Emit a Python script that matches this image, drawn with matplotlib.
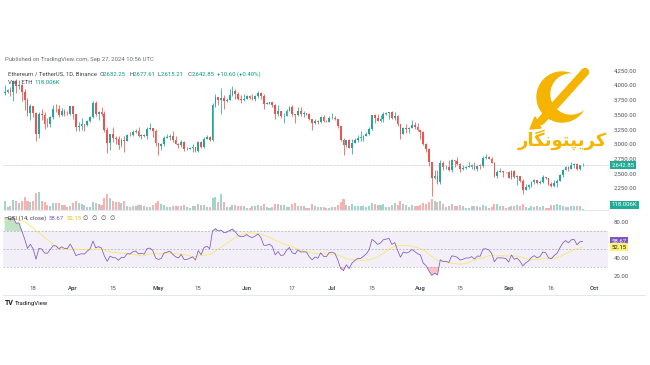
import numpy as np
import pandas as pd
import matplotlib
matplotlib.use("Agg")
import matplotlib.pyplot as plt
from matplotlib.patches import Circle, Ellipse, Polygon
from matplotlib.transforms import blended_transform_factory

# ---------------- data ----------------
start_date = "2024-03-08"
warmup_close = [2470, 2455, 2315, 2240, 2235, 2218, 2267, 2267, 2257, 2317, 2343, 2283,
                2304, 2309, 2297, 2290, 2302, 2372, 2425, 2420, 2486, 2500, 2507, 2660,
                2641, 2777, 2823, 2803, 2787, 2882, 2945, 3014, 2967, 2971, 2922, 2992,
                3112, 3176, 3243, 3385, 3340, 3434, 3421, 3488, 3628, 3553, 3817, 3868]

close_mar = [3882, 3907, 3878, 4067, 3982, 4005, 3885, 3740, 3525, 3645, 3520, 3160,
             3515, 3495, 3335, 3330, 3455, 3590, 3585, 3490, 3560, 3510, 3505, 3645]
high_mar = [3995, 3940, 3960, 4085, 4095, 4085, 4010, 3935, 3780, 3670, 3615, 3540,
            3535, 3590, 3545, 3435, 3465, 3665, 3675, 3665, 3615, 3590, 3565, 3650]
low_mar = [3835, 3870, 3820, 3725, 3860, 3935, 3735, 3570, 3480, 3410, 3460, 3055,
           3105, 3405, 3250, 3290, 3280, 3425, 3545, 3460, 3465, 3465, 3485, 3495]

close_apr = [3505, 3280, 3310, 3330, 3320, 3395, 3455, 3700, 3505, 3545, 3505, 3240, 3010, 3160, 3100,
             3085, 2985, 3065, 3055, 3155, 3145, 3200, 3220, 3140, 3155, 3130, 3255, 3265, 3215, 3015]
high_apr = [3645, 3505, 3370, 3445, 3345, 3410, 3470, 3730, 3725, 3560, 3620, 3555, 3285, 3175, 3280,
            3125, 3125, 3095, 3125, 3175, 3200, 3240, 3255, 3290, 3175, 3165, 3285, 3350, 3240, 3250]
low_apr = [3425, 3210, 3210, 3240, 3210, 3305, 3375, 3440, 3475, 3410, 3480, 3200, 2850, 2900, 3025,
           2990, 2920, 2950, 2870, 3045, 3125, 3130, 3180, 3120, 3075, 3110, 3075, 3240, 3110, 2960]

close_may = [2970, 2990, 3100, 3115, 3135, 3065, 3005, 2975, 3035, 2910, 2910, 2930, 2950, 2880, 3035, 2945,
             3090, 3120, 3070, 3660, 3790, 3740, 3780, 3725, 3750, 3825, 3890, 3840, 3770, 3745, 3760]
high_may = [3020, 3020, 3125, 3170, 3175, 3220, 3125, 3020, 3060, 3050, 2950, 2955, 2990, 2955, 3045, 3045,
            3120, 3145, 3140, 3690, 3840, 3790, 3950, 3835, 3780, 3935, 3975, 3930, 3880, 3825, 3845]
low_may = [2815, 2890, 2960, 3095, 3065, 3040, 2995, 2935, 2950, 2880, 2895, 2905, 2865, 2865, 2860, 2930,
           2930, 3080, 3055, 3050, 3620, 3655, 3500, 3600, 3705, 3740, 3815, 3770, 3740, 3700, 3725]

close_jun = [3815, 3780, 3765, 3810, 3865, 3810, 3680, 3680, 3705, 3665, 3500, 3560, 3470, 3480, 3565,
             3620, 3510, 3485, 3560, 3515, 3520, 3515, 3420, 3355, 3395, 3370, 3450, 3380, 3375, 3435]
high_jun = [3835, 3830, 3850, 3830, 3890, 3880, 3840, 3715, 3715, 3715, 3670, 3655, 3565, 3530, 3590,
            3650, 3660, 3510, 3625, 3625, 3555, 3530, 3530, 3430, 3430, 3410, 3480, 3490, 3405, 3465]
low_jun = [3755, 3755, 3750, 3730, 3780, 3770, 3600, 3670, 3670, 3625, 3430, 3470, 3435, 3360, 3475,
           3555, 3475, 3360, 3480, 3480, 3450, 3495, 3410, 3240, 3345, 3330, 3360, 3375, 3370, 3365]

close_jul = [3440, 3420, 3295, 3060, 2980, 3065, 2930, 3020, 3065, 3100, 3100, 3135, 3175, 3245, 3485, 3445,
             3390, 3425, 3505, 3520, 3535, 3440, 3480, 3335, 3170, 3275, 3250, 3270, 3320, 3280, 3230]
high_jul = [3525, 3470, 3430, 3310, 3100, 3070, 3090, 3075, 3105, 3145, 3220, 3150, 3205, 3280, 3495, 3500,
            3515, 3485, 3545, 3535, 3545, 3560, 3540, 3485, 3340, 3290, 3330, 3280, 3400, 3370, 3350]
low_jul = [3430, 3410, 3275, 3050, 2810, 2955, 2925, 2825, 3015, 3030, 3050, 3050, 3125, 3155, 3235, 3350,
           3380, 3375, 3375, 3495, 3425, 3420, 3400, 3310, 3085, 3165, 3190, 3185, 3310, 3255, 3215]

close_aug = [3205, 2990, 2905, 2690, 2420, 2460, 2345, 2680, 2600, 2610, 2555, 2720, 2705, 2665, 2570, 2590,
             2615, 2615, 2640, 2575, 2630, 2625, 2765, 2770, 2750, 2680, 2460, 2530, 2530, 2525, 2515]
high_aug = [3240, 3215, 3010, 2935, 2700, 2560, 2555, 2720, 2710, 2645, 2720, 2740, 2730, 2780, 2680, 2635,
            2620, 2690, 2665, 2690, 2640, 2655, 2795, 2820, 2790, 2775, 2700, 2555, 2595, 2545, 2530]
low_aug = [3085, 2975, 2860, 2630, 2110, 2410, 2325, 2310, 2555, 2575, 2540, 2520, 2610, 2640, 2520, 2550,
           2580, 2605, 2565, 2560, 2540, 2580, 2610, 2745, 2735, 2670, 2435, 2420, 2515, 2445, 2505]

close_sep = [2425, 2540, 2430, 2450, 2365, 2220, 2270, 2300, 2360, 2390, 2340, 2360, 2435, 2420,
             2315, 2290, 2340, 2375, 2465, 2560, 2615, 2580, 2645, 2655, 2575, 2632.25, 2642.85]
high_sep = [2535, 2555, 2550, 2475, 2455, 2410, 2315, 2315, 2375, 2400, 2385, 2385, 2465, 2445,
            2425, 2345, 2390, 2395, 2485, 2570, 2625, 2620, 2700, 2670, 2670, 2640, 2677.61]
low_sep = [2420, 2410, 2415, 2305, 2355, 2150, 2220, 2240, 2270, 2320, 2310, 2325, 2335, 2400,
           2300, 2260, 2275, 2275, 2375, 2430, 2550, 2540, 2570, 2590, 2555, 2560, 2615.21]

volume_k = [720, 260, 330, 800, 720, 560, 730, 1040, 720, 640, 720, 1360, 1440, 720, 640, 400, 320, 560, 560, 560, 400, 400, 240, 320,
            560, 720, 560, 480, 400, 240, 250, 640, 560, 480, 400, 960, 1280, 960, 720, 640, 640, 560, 720, 320, 240, 320, 330, 400, 400, 320, 240, 250, 400, 560,
            720, 480, 400, 240, 250, 320, 330, 320, 320, 400, 240, 160, 320, 330, 480, 400, 400, 240, 250, 960, 1040, 640, 1280, 640, 240, 250, 400, 400, 320, 330, 320,
            160, 170, 320, 330, 400, 320, 480, 240, 160, 240, 480, 490, 400, 400, 240, 250, 480, 560, 320, 330, 320, 160, 170, 480, 320, 240, 250, 240, 160, 170,
            240, 250, 400, 640, 880, 400, 320, 480, 320, 330, 320, 320, 240, 320, 560, 480, 400, 400, 480, 240, 250, 400, 560, 400, 720, 480, 400, 240, 400, 320, 330,
            400, 560, 480, 640, 900, 720, 640, 720, 480, 240, 320, 480, 320, 330, 400, 320, 160, 170, 320, 330, 320, 240, 400, 320, 160, 240, 480, 490, 320, 330, 160,
            240, 320, 330, 400, 320, 480, 240, 160, 320, 240, 320, 240, 330, 160, 170, 400, 400, 480, 400, 320, 240, 250, 320, 330, 320, 320, 118.006]

ticker_title = "Ethereum / TetherUS, 1D, Binance"
tick_dates = ["2024-03-18", "2024-04-01", "2024-04-15", "2024-05-01", "2024-05-15", "2024-06-01", "2024-06-17",
              "2024-07-01", "2024-07-15", "2024-08-01", "2024-08-15", "2024-09-01", "2024-09-16", "2024-10-01"]
tick_labels = ["18", "Apr", "15", "May", "15", "Jun", "17", "Jul", "15", "Aug", "15", "Sep", "16", "Oct"]
price_ticks = [2250, 2500, 2750, 3000, 3250, 3500, 3750, 4000, 4250]
rsi_ticks = [20, 40, 80]
rsi_last, rsi_ma_last = 58.67, 52.15

close = np.array(close_mar + close_apr + close_may + close_jun + close_jul + close_aug + close_sep, float)
high = np.array(high_mar + high_apr + high_may + high_jun + high_jul + high_aug + high_sep, float)
low = np.array(low_mar + low_apr + low_may + low_jun + low_jul + low_aug + low_sep, float)
vol = np.array(volume_k, float)
n = len(close)
assert len(high) == n and len(low) == n and len(vol) == n, (n, len(high), len(low), len(vol))
opn = np.concatenate([[warmup_close[-1]], close[:-1]])
high = np.maximum(high, np.maximum(opn, close))
low = np.minimum(low, np.minimum(opn, close))
x = np.arange(n)

# RSI(14) with Wilder smoothing + SMA(14)
allc = pd.Series(list(warmup_close) + list(close))
d = allc.diff()
g = d.clip(lower=0).ewm(alpha=1 / 14, adjust=False).mean()
l_ = (-d.clip(upper=0)).ewm(alpha=1 / 14, adjust=False).mean()
rsi_all = 100 - 100 / (1 + g / l_)
rsi_ma_all = rsi_all.rolling(14).mean()
rsi = rsi_all.values[-n:]
rsi_ma = rsi_ma_all.values[-n:]

# ---------------- figure ----------------
W, H = 650, 365
fig = plt.figure(figsize=(W / 100, H / 100), dpi=100)
fig.patch.set_facecolor("white")
FONT = ["Roboto", "DejaVu Sans"]
plt.rcParams["font.family"] = FONT

def fx(px): return px / W
def fy(py): return 1 - py / H

GREEN, RED = "#26a69a", "#ef5350"
TXT = "#50535e"

L, R = 3, 608
ax = fig.add_axes([fx(L), fy(210), fx(R - L), (210 - 65) / H])
axr = fig.add_axes([fx(L), fy(282), fx(R - L), (282 - 210) / H], sharex=ax)

xmin = -0.6
xmax = xmin + (R - L) / 2.847
# volume (twin)
axv = ax.twinx()
up = close >= opn
cols = np.where(up, GREEN, RED)
axv.bar(x, vol, width=0.72, color=cols, alpha=0.45, linewidth=0)
axv.set_ylim(0, 145 * 80)
axv.set_yticks([])
for s in axv.spines.values():
    s.set_visible(False)

# candles
ax.set_zorder(axv.get_zorder() + 1)
ax.patch.set_visible(False)
ax.vlines(x, low, high, colors=cols, linewidth=0.55)
body_bot = np.minimum(opn, close)
body_h = np.maximum(np.abs(close - opn), 10)
ax.bar(x, body_h, bottom=body_bot, width=0.62, color=cols, linewidth=0)
ax.axhline(close[-1], color="#b2b5be", linewidth=0.5, linestyle=(0, (1, 1)))
ax.set_xlim(xmin, xmax)
ax.set_ylim(1876, 4340)
ax.yaxis.tick_right()
ax.set_yticks(price_ticks)
ax.set_yticklabels([f"{v:,.2f}" for v in price_ticks])
ax.tick_params(axis="y", length=0, pad=4, labelsize=4.3, labelcolor=TXT)
ax.tick_params(axis="x", bottom=False, labelbottom=False)
for s in ax.spines.values():
    s.set_visible(False)

# label boxes price pane
bt = blended_transform_factory(ax.transAxes, ax.transData)
ax.text(1.0055, close[-1], f"{close[-1]:,.2f}", transform=bt, fontsize=4.3, color="white",
        va="center", ha="left", bbox=dict(boxstyle="square,pad=0.25", fc="#22ab94", ec="none"))
fig.text(fx(611.5), fy(205), f"{vol[-1]:.3f}K", fontsize=4.3, color="white", va="center", ha="left",
         bbox=dict(boxstyle="square,pad=0.25", fc="#22ab94", ec="none"))

# RSI pane
axr.axhspan(30, 70, color="#7e57c2", alpha=0.09, linewidth=0)
for lv in (70, 50, 30):
    axr.axhline(lv, color="#9598a1", linewidth=0.5, linestyle=(0, (2.5, 2.5)), alpha=0.8)
axr.fill_between(x, 70, rsi, where=rsi > 70, interpolate=True, color="#4caf50", alpha=0.35, linewidth=0)
axr.fill_between(x, 30, rsi, where=rsi < 30, interpolate=True, color="#f23645", alpha=0.3, linewidth=0)
axr.plot(x, rsi_ma, color="#f7e86a", linewidth=0.6)
axr.plot(x, rsi, color="#7e57c2", linewidth=0.55)
axr.set_ylim(13.3, 93.3)
axr.set_xlim(xmin, xmax)
axr.yaxis.tick_right()
axr.set_yticks(rsi_ticks)
axr.set_yticklabels([f"{v:.2f}" for v in rsi_ticks])
axr.tick_params(axis="y", length=0, pad=4, labelsize=4.3, labelcolor=TXT)
tpos = (pd.to_datetime(tick_dates) - pd.Timestamp(start_date)).days.values
axr.set_xticks(tpos)
axr.set_xticklabels(tick_labels)
axr.tick_params(axis="x", length=0, pad=3, labelsize=4.3, labelcolor=TXT)
for lab in axr.get_xticklabels():
    if lab.get_text().isalpha():
        lab.set_fontweight("bold")
for s in axr.spines.values():
    s.set_visible(False)
axr.spines["top"].set_visible(True)
axr.spines["top"].set_color("#e0e3eb")
axr.spines["top"].set_linewidth(0.6)
btr = blended_transform_factory(axr.transAxes, axr.transData)
axr.text(1.0055, rsi_last, f"{rsi_last:.2f}", transform=btr, fontsize=4.3, color="white",
         va="center", ha="left", bbox=dict(boxstyle="square,pad=0.25", fc="#7e57c2", ec="none"))
axr.text(1.0055, rsi_ma_last, f"{rsi_ma_last:.2f}", transform=btr, fontsize=4.3, color="#131722",
         va="center", ha="left", bbox=dict(boxstyle="square,pad=0.25", fc="#fff176", ec="none"))

# bottom frame line
fig.add_artist(plt.Line2D([fx(3), fx(645)], [fy(295), fy(295)], color="#e0e3eb", linewidth=0.6))

# ---------------- texts ----------------
fs = 4.3
fig.text(fx(5), fy(60), "Published on TradingView.com, Sep 27, 2024 10:56 UTC", fontsize=fs, color="#6a6d78", va="center")
fig.text(fx(8), fy(74), ticker_title, fontsize=fs, color="#434651", va="center")
ohlc = [("O", 100), (f"{opn[-1]:,.2f}", 103), ("H", 129), (f"{high[-1]:,.2f}", 133),
        ("L", 158), (f"{low[-1]:,.2f}", 161), ("C", 188), (f"{close[-1]:,.2f}", 192)]
for i, (t, px) in enumerate(ohlc):
    fig.text(fx(px), fy(74), t, fontsize=fs, color="#434651" if i % 2 == 0 else "#089981", va="center")
chg = close[-1] - opn[-1]
fig.text(fx(217), fy(74), f"+{chg:.2f} (+{chg / opn[-1] * 100:.2f}%)", fontsize=fs, color="#089981", va="center")
fig.text(fx(8), fy(82), "Vol · ETH", fontsize=fs, color="#434651", va="center")
fig.text(fx(34), fy(82), f"{vol[-1]:.3f}K", fontsize=fs, color="#089981", va="center")

fig.text(fx(8), fy(218), "RSI (14, close)", fontsize=fs, color="#434651", va="center")
fig.text(fx(49), fy(218), f"{rsi_last:.2f}", fontsize=fs, color="#7e57c2", va="center")
fig.text(fx(67), fy(218), f"{rsi_ma_last:.2f}", fontsize=fs, color="#e6c200", va="center")
fig.text(fx(83), fy(218), "∅  ∅  ∅  ∅", fontsize=fs, color="#434651", va="center", family=["DejaVu Sans"])

fig.text(fx(5), fy(303), "TV", fontsize=5, fontweight="bold", color="#131722", va="center")
fig.text(fx(15), fy(303), "TradingView", fontsize=4.3, color="#131722", va="center")

# ---------------- logo ----------------
GOLD = "#f4b400"
lax = fig.add_axes([fx(500), fy(160), fx(110), 95 / H])
lax.set_xlim(500, 610)
lax.set_ylim(160, 65)
lax.set_aspect("equal")
lax.axis("off")
# crescent "C"
lax.add_patch(Circle((562, 97), 25, color=GOLD))
lax.add_patch(Circle((571, 94), 20, color="white"))
# chain bar
lax.plot([541, 585], [121, 72], color=GOLD, linewidth=6, solid_capstyle="round")
for t in np.linspace(0.2, 0.8, 4):
    cx, cy = 541 + t * 44, 121 - t * 49
    lax.add_patch(Ellipse((cx, cy), 8, 4.5, angle=-48, fc="none", ec="#b07a00", lw=0.6))
lax.add_patch(Polygon([[535, 117], [541, 128], [530, 129]], closed=True, color=GOLD))
persian = "\uFEAD\uFE8E\uFB95\uFEE7\uFEEE\uFE98\uFB59\uFBFE\uFEAE\uFB90"
lax.text(562, 140, persian, fontsize=13, fontweight="bold", color=GOLD, ha="center", va="center",
         family=["DejaVu Sans"])

fig.savefig("out.png", dpi=100, facecolor="white")
